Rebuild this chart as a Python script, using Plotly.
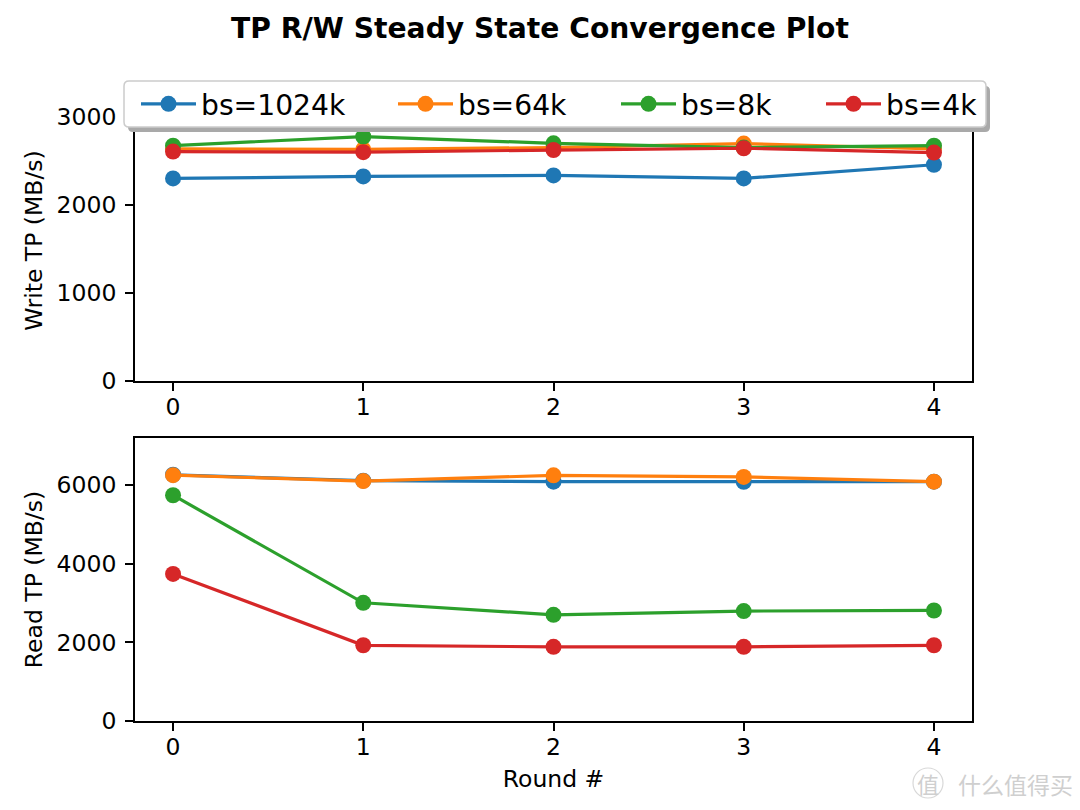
import plotly.graph_objects as go

rounds = [0, 1, 2, 3, 4]
series_names = ["bs=1024k", "bs=64k", "bs=8k", "bs=4k"]
colors = ["#1f77b4", "#ff7f0e", "#2ca02c", "#d62728"]

write_1024k = [2300, 2322, 2334, 2300, 2455]
write_64k = [2635, 2630, 2650, 2695, 2635]
write_8k = [2672, 2775, 2698, 2650, 2672]
write_4k = [2604, 2598, 2622, 2642, 2593]

read_1024k = [6260, 6110, 6085, 6080, 6085]
read_64k = [6250, 6100, 6245, 6205, 6085]
read_8k = [5740, 3005, 2700, 2795, 2810]
read_4k = [3740, 1925, 1885, 1885, 1925]

write_data = [write_1024k, write_64k, write_8k, write_4k]
read_data = [read_1024k, read_64k, read_8k, read_4k]

write_ticks = [0, 1000, 2000, 3000]
read_ticks = [0, 2000, 4000, 6000]
x_ticks = [0, 1, 2, 3, 4]

# page offset of the plot div (default body margin)
OFF = 8
W, H = 1080 - 2 * OFF, 810 - 2 * OFF
FONT = "DejaVu Sans"


def px(x):
    return (x - OFF) / W


def py(y):
    return 1 - (y - OFF) / H


legend_names = ["legend", "legend2", "legend3", "legend4"]
legend_x_px = [136, 393, 616, 821]

fig = go.Figure()
for i, name in enumerate(series_names):
    fig.add_trace(go.Scatter(
        x=rounds, y=write_data[i], name=name, mode="lines+markers",
        line=dict(color=colors[i], width=3.2),
        marker=dict(color=colors[i], size=16),
        xaxis="x", yaxis="y", legend=legend_names[i], showlegend=True,
    ))
for i, name in enumerate(series_names):
    fig.add_trace(go.Scatter(
        x=rounds, y=read_data[i], name=name, mode="lines+markers",
        line=dict(color=colors[i], width=3.2),
        marker=dict(color=colors[i], size=16),
        xaxis="x2", yaxis="y2", showlegend=False,
    ))

axis_common = dict(
    showline=True, mirror=True, linecolor="black", linewidth=1.8,
    ticks="outside", ticklen=8, tickwidth=1.8, tickcolor="black",
    showgrid=False, zeroline=False, automargin=False,
    tickfont=dict(family=FONT, size=23.5, color="black"),
)
x_common = dict(axis_common, ticklabelstandoff=-4)
y_common = dict(axis_common, ticklabelstandoff=4)

title_font = dict(family=FONT, size=23.5, color="black")
x_dom = [px(135), px(972)]
layout = dict(
    width=W, height=H,
    margin=dict(l=0, r=0, t=0, b=0),
    paper_bgcolor="white", plot_bgcolor="white",
    font=dict(family=FONT, color="black"),
    title=dict(text="TP R/W Steady State Convergence Plot",
               font=dict(family=FONT, size=28.2, color="black", weight="bold"),
               x=px(540), xanchor="center", y=py(28), yanchor="middle"),
    xaxis=dict(domain=x_dom, range=[-0.2, 4.2], tickvals=x_ticks,
               anchor="y", **x_common),
    yaxis=dict(domain=[py(381), py(100)], range=[0, 3190], tickvals=write_ticks,
               anchor="x",
               title=dict(text="Write TP (MB/s)", standoff=7, font=title_font),
               **y_common),
    xaxis2=dict(domain=x_dom, range=[-0.2, 4.2], tickvals=x_ticks,
                anchor="y2",
                title=dict(text="Round #", standoff=10, font=title_font),
                **x_common),
    yaxis2=dict(domain=[py(721), py(438)], range=[0, 7195], tickvals=read_ticks,
                anchor="x2",
                title=dict(text="Read TP (MB/s)", standoff=7, font=title_font),
                **y_common),
    showlegend=True,
)

for i, ln in enumerate(legend_names):
    layout[ln] = dict(
        x=px(legend_x_px[i]), xanchor="left", y=py(104), yanchor="middle",
        orientation="h", bgcolor="rgba(0,0,0,0)", borderwidth=0,
        itemwidth=55, font=dict(family=FONT, size=28.2, color="black"),
    )

fig.update_layout(**layout)


# legend frame with shadow (matplotlib-style fancy box)
def rounded_path(x0, y0, x1, y1, r):
    rx, ry = r / W, r / H
    X0, X1 = px(x0), px(x1)
    Y0, Y1 = py(y0), py(y1)  # Y0 top, Y1 bottom
    return (f"M{X0+rx},{Y0} L{X1-rx},{Y0} Q{X1},{Y0} {X1},{Y0-ry} "
            f"L{X1},{Y1+ry} Q{X1},{Y1} {X1-rx},{Y1} L{X0+rx},{Y1} "
            f"Q{X0},{Y1} {X0},{Y1+ry} L{X0},{Y0-ry} Q{X0},{Y0} {X0+rx},{Y0} Z")


fig.add_shape(type="path", xref="paper", yref="paper",
              path=rounded_path(128, 86, 990, 132, 5),
              fillcolor="#a9a9a9", line=dict(width=0), layer="above")
fig.add_shape(type="path", xref="paper", yref="paper",
              path=rounded_path(124, 81, 986, 127, 5),
              fillcolor="white", line=dict(color="#cccccc", width=1.5), layer="above")

# watermark
fig.add_annotation(text="什么值得买", xref="paper", yref="paper",
                   x=px(956), y=py(784), xanchor="left", yanchor="middle",
                   showarrow=False,
                   font=dict(family="Noto Sans CJK SC", size=23, color="#cfcfcf"))
fig.add_annotation(text="值", xref="paper", yref="paper",
                   x=px(928), y=py(783), xanchor="center", yanchor="middle",
                   showarrow=False,
                   font=dict(family="Noto Sans CJK SC", size=22, color="#cfcfcf"))
fig.add_shape(type="circle", xref="paper", yref="paper",
              x0=px(913), x1=px(943), y0=py(798), y1=py(768),
              line=dict(color="#d8d8d8", width=1.2), layer="above")

fig.write_html("out.html")
